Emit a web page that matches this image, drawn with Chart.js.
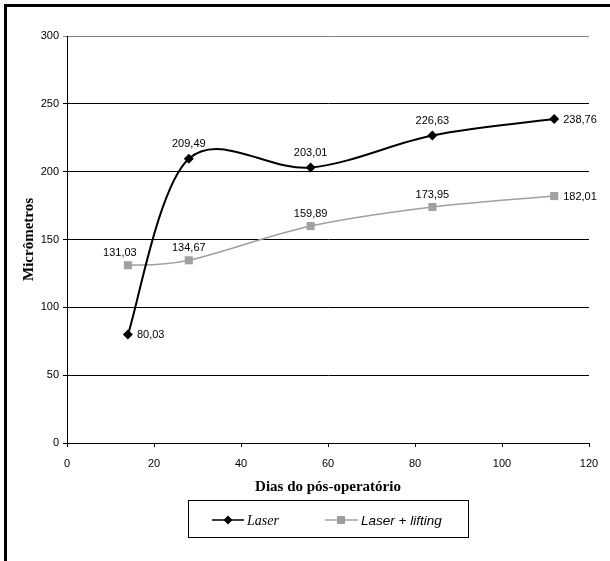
<!DOCTYPE html>
<html>
<head>
<meta charset="utf-8">
<script src="https://cdn.jsdelivr.net/npm/chart.js@4/dist/chart.umd.min.js"></script>
<style>
  html, body { margin: 0; padding: 0; background: #fff; }
  #wrap { width: 610px; height: 561px; position: relative; }
</style>
</head>
<body>
<div id="wrap"><canvas id="chart" width="610" height="561"></canvas></div>
<script>
// Dias do pós-operatório (x) and values in micrômetros (y)
const days = [14, 28, 56, 84, 112];
const laser = [80.03, 209.49, 203.01, 226.63, 238.76];
const laserLifting = [131.03, 134.67, 159.89, 173.95, 182.01];
const xTicks = [0, 20, 40, 60, 80, 100, 120];
const yTicks = [0, 50, 100, 150, 200, 250, 300];

// where each value label sits relative to its point
const laserLabelPos = ['right', 'above', 'above', 'above', 'right'];
const liftingLabelPos = ['aboveLeft', 'above', 'above', 'above', 'right'];

const fmt = v => v.toFixed(2).replace('.', ',');

// Excel-like smoothing: Catmull-Rom style control points (1/6 of neighbour span)
const smoothPlugin = {
  id: 'excelSmooth',
  beforeDatasetsDraw(chart) {
    chart.data.datasets.forEach((ds, i) => {
      const meta = chart.getDatasetMeta(i);
      const line = meta.dataset;
      line.updateControlPoints(chart.chartArea, 'x');
      const pts = meta.data;
      pts.forEach((p, j) => {
        const prev = pts[j - 1] || p;
        const next = pts[j + 1] || p;
        const dx = (next.x - prev.x) / 6;
        const dy = (next.y - prev.y) / 6;
        p.cp1x = p.x - dx; p.cp1y = p.y - dy;
        p.cp2x = p.x + dx; p.cp2y = p.y + dy;
      });
    });
  }
};

// frame round the whole picture (only top and left show in the reference)
const framePlugin = {
  id: 'frame',
  afterDraw(chart) {
    const ctx = chart.ctx;
    ctx.save();
    ctx.fillStyle = '#000';
    ctx.fillRect(4, 4, 606, 3);
    ctx.fillRect(4, 4, 3, 557);
    ctx.restore();
  }
};

// value labels next to each point
const labelPlugin = {
  id: 'valueLabels',
  afterDatasetsDraw(chart) {
    const ctx = chart.ctx;
    ctx.save();
    ctx.font = '11px Arial, "Liberation Sans", sans-serif';
    ctx.fillStyle = '#000';
    ctx.textBaseline = 'middle';
    chart.data.datasets.forEach((ds, i) => {
      const meta = chart.getDatasetMeta(i);
      meta.data.forEach((pt, j) => {
        const pos = ds.labelPos[j];
        const txt = fmt(ds.data[j].y);
        if (pos === 'right') {
          ctx.textAlign = 'left';
          ctx.fillText(txt, pt.x + 9, pt.y + 1);
        } else if (pos === 'aboveLeft') {
          ctx.textAlign = 'center';
          ctx.fillText(txt, pt.x - 8, pt.y - 12);
        } else {
          ctx.textAlign = 'center';
          ctx.fillText(txt, pt.x, pt.y - (i === 0 ? 15 : 12));
        }
      });
    });
    ctx.restore();
  }
};

// legend box at the bottom
const legendPlugin = {
  id: 'boxLegend',
  afterDraw(chart) {
    const ctx = chart.ctx;
    const ds = chart.data.datasets;
    ctx.save();
    ctx.strokeStyle = '#000';
    ctx.lineWidth = 1;
    ctx.strokeRect(188.5, 500.5, 280, 37);
    const cy = 520;
    // Laser
    ctx.strokeStyle = ds[0].borderColor;
    ctx.lineWidth = 1.5;
    ctx.beginPath(); ctx.moveTo(212, cy); ctx.lineTo(244, cy); ctx.stroke();
    ctx.fillStyle = ds[0].pointBackgroundColor;
    ctx.beginPath();
    ctx.moveTo(228, cy - 4.5); ctx.lineTo(232.5, cy); ctx.lineTo(228, cy + 4.5); ctx.lineTo(223.5, cy);
    ctx.closePath(); ctx.fill();
    ctx.fillStyle = '#000';
    ctx.textBaseline = 'middle';
    ctx.textAlign = 'left';
    ctx.font = 'italic 14px "Times New Roman", "Liberation Serif", serif';
    ctx.fillText('Laser', 247, cy + 1);
    // Laser + lifting
    ctx.strokeStyle = ds[1].borderColor;
    ctx.beginPath(); ctx.moveTo(325, cy); ctx.lineTo(358, cy); ctx.stroke();
    ctx.fillStyle = ds[1].pointBackgroundColor;
    ctx.fillRect(337, cy - 4, 8, 8);
    ctx.fillStyle = '#000';
    ctx.font = 'italic 13.5px Arial, "Liberation Sans", sans-serif';
    ctx.fillText('Laser + lifting', 361, cy + 1);
    ctx.restore();
  }
};

new Chart(document.getElementById('chart'), {
  type: 'line',
  data: {
    datasets: [
      {
        label: 'Laser',
        data: days.map((d, i) => ({ x: d, y: laser[i] })),
        labelPos: laserLabelPos,
        borderColor: '#000',
        borderWidth: 2,
        pointStyle: 'rectRot',
        pointRadius: 5,
        pointBackgroundColor: '#000',
        pointBorderColor: '#000',
        pointBorderWidth: 0,
        tension: 0.5,
        fill: false
      },
      {
        label: 'Laser + lifting',
        data: days.map((d, i) => ({ x: d, y: laserLifting[i] })),
        labelPos: liftingLabelPos,
        borderColor: '#a0a0a0',
        borderWidth: 1.5,
        pointStyle: 'rect',
        pointRadius: 5.7,
        pointBackgroundColor: '#a0a0a0',
        pointBorderColor: '#a0a0a0',
        pointBorderWidth: 0,
        tension: 0.5,
        fill: false
      }
    ]
  },
  options: {
    responsive: false,
    animation: false,
    layout: { padding: { left: 16, top: 36, right: 21, bottom: 61 } },
    plugins: {
      legend: { display: false },
      tooltip: { enabled: false }
    },
    scales: {
      x: {
        type: 'linear',
        min: 0,
        max: 120,
        afterBuildTicks: s => { s.ticks = xTicks.map(v => ({ value: v })); },
        afterFit: s => { s.height = 57; },
        ticks: { color: '#000', padding: 10, font: { size: 11, family: 'Arial, "Liberation Sans", sans-serif' } },
        grid: { drawOnChartArea: false, tickLength: 4, color: '#000' },
        border: { color: '#000' },
        title: {
          display: true,
          text: 'Dias do pós-operatório',
          color: '#000',
          padding: { top: 4, bottom: 4 },
          font: { size: 15, weight: 'bold', family: '"Times New Roman", "Liberation Serif", serif' }
        }
      },
      y: {
        min: 0,
        max: 300,
        afterBuildTicks: s => { s.ticks = yTicks.map(v => ({ value: v })); },
        afterFit: s => { s.width = 51; },
        ticks: { color: '#000', padding: 4, font: { size: 11, family: 'Arial, "Liberation Sans", sans-serif' } },
        grid: {
          tickLength: 4,
          color: c => (c.tick && c.tick.value === 300 ? '#808080' : '#000')
        },
        border: { color: '#000' },
        title: {
          display: true,
          text: 'Micrômetros',
          color: '#000',
          padding: { top: 4, bottom: 4 },
          font: { size: 15, weight: 'bold', family: '"Times New Roman", "Liberation Serif", serif' }
        }
      }
    }
  },
  plugins: [smoothPlugin, labelPlugin, legendPlugin, framePlugin]
});
</script>
</body>
</html>
